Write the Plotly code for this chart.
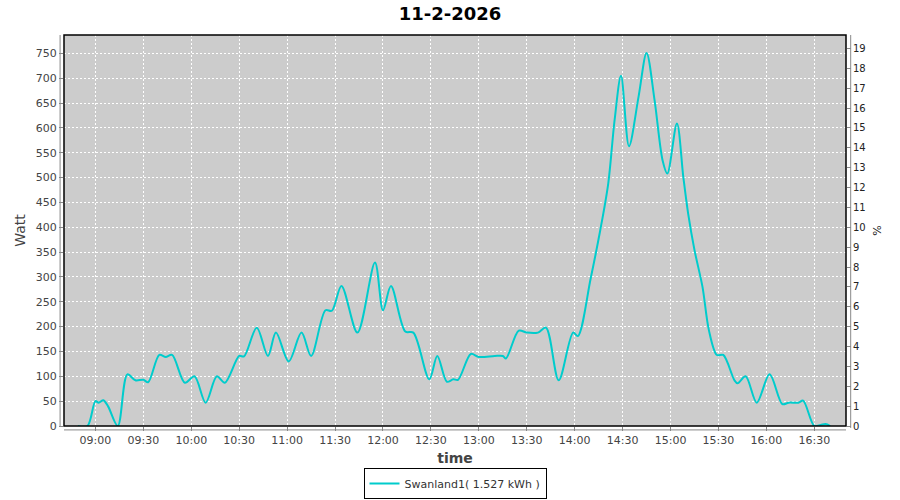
import plotly.graph_objects as go

# Power readings for 11-2-2026
day = "2026-02-11 "
times = [
    "08:49", "08:55", "09:00", "09:02", "09:05", "09:08", "09:14", "09:20", "09:25", "09:30",
    "09:33", "09:40", "09:44", "09:48", "09:56", "10:02", "10:09", "10:16", "10:21", "10:30",
    "10:33", "10:41", "10:48", "10:53", "11:01", "11:09", "11:15", "11:24", "11:28", "11:34",
    "11:44", "11:55", "12:00", "12:05", "12:14", "12:19", "12:29", "12:34", "12:40", "12:44",
    "12:47", "12:55", "13:00", "13:10", "13:15", "13:17", "13:25", "13:30", "13:37", "13:42",
    "13:50", "13:59", "14:02", "14:10", "14:16", "14:21", "14:25", "14:29", "14:34", "14:40",
    "14:45", "14:50", "14:55", "14:58", "15:04", "15:08", "15:11", "15:15", "15:20", "15:24",
    "15:29", "15:33", "15:40", "15:42", "15:47", "15:54", "16:02", "16:10", "16:14", "16:20",
    "16:23", "16:30", "16:34", "16:37", "16:40",
]
watts = [
    0, 0, 50, 47, 52, 39, 0, 104, 92, 93,
    88, 143, 139, 143, 87, 100, 47, 100, 87, 141,
    140, 198, 141, 188, 130, 188, 141, 233, 232, 282,
    188, 329, 233, 282, 190, 188, 94, 141, 89, 94,
    93, 145, 139, 141, 141, 136, 192, 188, 188, 198,
    92, 188, 181, 297, 394, 488, 616, 705, 563, 663,
    751, 656, 535, 508, 609, 501, 428, 354, 280, 193,
    143, 143, 92, 86, 100, 47, 104, 44, 47, 47,
    51, 0, 2, 4, 0,
]
series_name = "Swanland1( 1.527 kWh )"
tick_times = ["09:00", "09:30", "10:00", "10:30", "11:00", "11:30", "12:00", "12:30",
              "13:00", "13:30", "14:00", "14:30", "15:00", "15:30", "16:00", "16:30"]

x = [day + t for t in times]
y_max = 787
pct_full = 4000  # W that equals 100 %

fig = go.Figure()
fig.add_trace(go.Scatter(
    x=x, y=watts, name=series_name, mode="lines",
    line=dict(color="#00cccc", width=2, shape="spline", smoothing=0.9),
))
# dummy trace so the right axis is drawn
fig.add_trace(go.Scatter(
    x=[x[0]], y=[0], yaxis="y2", mode="lines", showlegend=False,
    hoverinfo="skip", line=dict(color="rgba(0,0,0,0)"),
))

tick_font = dict(family="DejaVu Sans", size=11, color="#444444")
fig.update_layout(
    width=900, height=500,
    paper_bgcolor="white", plot_bgcolor="#cccccc",
    margin=dict(l=64, r=54, t=35, b=74, autoexpand=False),
    title=dict(text="<b>11-2-2026</b>", x=0.5, xanchor="center", y=0.985, yanchor="top",
               font=dict(family="DejaVu Sans", size=18, color="black")),
    font=dict(family="DejaVu Sans", size=11, color="#444444"),
    xaxis=dict(
        type="date", automargin=False,
        range=[day + "08:40:20", day + "16:49:50"],
        tickvals=[day + t for t in tick_times], ticktext=tick_times,
        showgrid=True, gridcolor="white", griddash="2px,2px", gridwidth=1,
        ticks="outside", ticklen=4, tickcolor="#888888", tickfont=tick_font,
        showline=False, zeroline=False,
        title=dict(text="<b>time</b>", font=dict(family="DejaVu Sans", size=14, color="#444444"),
                   standoff=6),
    ),
    yaxis=dict(
        range=[0, y_max], dtick=50, automargin=False,
        showgrid=True, gridcolor="white", griddash="2px,2px", gridwidth=1,
        ticks="outside", ticklen=4, tickcolor="#888888", tickfont=tick_font,
        showline=False, zeroline=False,
        title=dict(text="Watt", font=dict(family="DejaVu Sans", size=14, color="#444444"),
                   standoff=6),
    ),
    yaxis2=dict(
        overlaying="y", side="right", range=[0, y_max / pct_full * 100], dtick=1,
        automargin=False,
        showgrid=False, zeroline=False, showline=False,
        ticks="outside", ticklen=4, tickcolor="#888888",
        tickfont=dict(family="DejaVu Sans", size=10, color="#222222"),
        title=dict(text="%", font=dict(family="DejaVu Sans", size=11, color="#222222"),
                   standoff=8),
    ),
    legend=dict(
        orientation="h", x=0.5, xanchor="center", y=-0.187, yanchor="bottom",
        bordercolor="black", borderwidth=1, bgcolor="white",
        font=dict(family="DejaVu Sans", size=11, color="#333333"),
        itemwidth=30,
    ),
    showlegend=True,
)

# plot frame and offset grey axis lines
fig.add_shape(type="rect", xref="paper", yref="paper", x0=0, x1=1, y0=0, y1=1,
              line=dict(color="black", width=1.5))
fig.add_shape(type="line", xref="paper", yref="paper", x0=-0.005, x1=-0.005, y0=0, y1=1,
              line=dict(color="#888888", width=1))
fig.add_shape(type="line", xref="paper", yref="paper", x0=1.006, x1=1.006, y0=-0.005, y1=1,
              line=dict(color="#888888", width=1))
fig.add_shape(type="line", xref="paper", yref="paper", x0=0, x1=1, y0=-0.01, y1=-0.01,
              line=dict(color="#888888", width=1))

# drop the browser's default page margin so the 900x500 figure fills the window
fig.write_html("out.html", config={"displayModeBar": False},
               post_script="document.body.style.margin='0';")
